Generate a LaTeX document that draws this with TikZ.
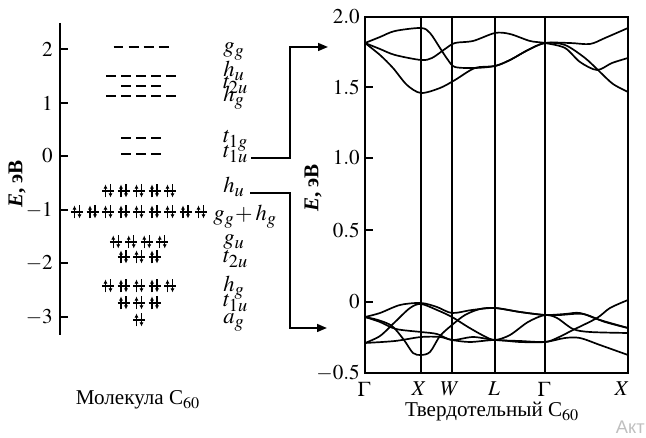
\documentclass[tikz,border=0pt]{standalone}
\usepackage{mathptmx}
\usepackage{fontspec}
\setmainfont{Liberation Serif}
\newfontfamily\wmfont{Liberation Sans}
\usetikzlibrary{arrows.meta}
\DeclareMathSizes{15}{15}{11.5}{9}
\DeclareMathSizes{16}{16}{13}{10}

\tikzset{
  lvl/.style={line width=1.4pt, dash pattern=on 7.1pt off 3.6pt},
  band/.style={line width=1.2pt},
  kline/.style={line width=0.8pt},
  conn/.style={line width=1.3pt, ->},
  lab/.style={anchor=base west, inner sep=0pt, font=\fontsize{16}{18}\selectfont},
  tlab/.style={anchor=east, inner sep=0pt},
  pairsym/.pic={
    \draw[line width=1.1pt] (-6,0) -- (6,0);
    \draw[line width=0.9pt, -{Latex[length=3pt,width=3pt]}] (-2.5,6.5) -- (-2.5,-6.5);
    \draw[line width=0.9pt, -{Latex[length=3pt,width=3pt]}] (2.5,-6.5) -- (2.5,6.5);
  }
}

\begin{document}
\begin{tikzpicture}[x=0.025cm, y=-0.025cm, font=\fontsize{15}{18}\selectfont,
    >={Triangle[length=7pt,width=5.5pt]}]
  \useasboundingbox (0,0) rectangle (646,438);

  % molecule levels
  \draw[line width=1.6pt] (60,23) -- (60,335);
  \foreach \yy/\t in {49/2, 103/1, 156/0, 210/-1, 263/-2, 317/-3}{
    \draw[line width=1.2pt] (60,\yy) -- (68,\yy);
    \node[tlab] (e\t) at (53,\yy) {$\t$};
  }
  \node[rotate=90] (ylab) at (17,184) {\textbf{\textit{E}, эВ}};

  \foreach \yy/\n in {47/4, 76/5, 86/3, 96/5, 138/3, 154/3}
    \draw[lvl] ({141-(15*\n-5)/2},\yy) -- ++({15*\n-5},0);
  \foreach \yy/\n in {191/5, 212/9, 242/4, 257/3, 286/5, 303/3, 320/1}
    \foreach \k in {1,...,\n}
      \pic at ({139+(\k-(\n+1)/2)*15.5},\yy) {pairsym};

  \node[lab] (lgg) at (223,53) {$g_g$};
  \node[lab] (lhu) at (223,77) {$h_u$};
  \node[lab] (lt2u) at (223,89) {$t_{2u}$};
  \node[lab] (lhg) at (223,102) {$h_g$};
  \node[lab] (lt1g) at (223,143) {$t_{1g}$};
  \node[lab] (lt1u) at (223,158) {$t_{1u}$};
  \node[lab] (lhuo) at (223,193) {$h_u$};
  \node[lab] (lgghg) at (213,221) {$g_g\!+h_g$};
  \node[lab] (lgu) at (223,245) {$g_u$};
  \node[lab] (lt2uo) at (223,263) {$t_{2u}$};
  \node[lab] (lhgo) at (223,292) {$h_g$};
  \node[lab] (lt1uo) at (223,307) {$t_{1u}$};
  \node[lab] (lag) at (223,324) {$a_g$};
  \node[anchor=base] (mol) at (138,405) {Молекула C$_{60}$};

  % arrows to the bands
  \coordinate (bendup) at (290,47);
  \coordinate (up) at (328,47);
  \coordinate (benddn) at (290,328);
  \coordinate (dn) at (327,328);
  \draw[conn] ([xshift=2pt]lt1u.base east) -| (bendup) -- (up);
  \draw[conn] ([xshift=4pt]lhuo.base east) -| (benddn) -- (dn);

  % band structure
  \draw[line width=1.3pt] (365,17) rectangle (628,373);
  \foreach \x/\k/\s in {421/X1/X, 452/W/W, 495/L/L, 545/G2/\Gamma}
    \draw[kline] (\x,17) -- (\x,373);
  \foreach \x/\k/\s in {364/G1/\Gamma, 419/X1/X, 450/W/W, 494/L/L, 544/G2/\Gamma, 622/X2/X}
    \node (k\k) at (\x,389) {$\s$};
  \foreach \yy/\v in {87/1.5, 158/1.0, 230/0.5, 302/0}
    \draw[line width=1.1pt] (365,\yy) -- (373,\yy);
  \foreach \yy/\v/\n in {17/2.0/a, 87/1.5/b, 158/1.0/c, 230/0.5/d, 302/0/e, 373/-0.5/f}
    \node[tlab] (s\n) at (360,\yy) {$\v$};
  \node[rotate=90] (ylabs) at (313,188) {\textbf{\textit{E}, эВ}};
  \node[anchor=base] (solid) at (492,417) {Твердотельный C$_{60}$};

  \draw[band] plot[smooth, tension=0.5] coordinates {(365,43) (380,37) (395,31) (421,28) (430,33) (440,48) (448,60) (455,67) (475,68) (495,66) (510,60) (528,50) (545,43) (570,43) (590,44) (605,38) (628,28)};
  \draw[band] plot[smooth, tension=0.5] coordinates {(365,43) (380,49) (395,55) (421,60) (432,58) (445,49) (455,43) (473,41) (495,33) (510,34) (530,41) (545,43) (565,48) (580,62) (597,70) (612,63) (628,58)};
  \draw[band] plot[smooth, tension=0.5] coordinates {(365,43) (380,55) (393,68) (407,85) (421,93) (440,88) (455,80) (475,68) (495,66) (510,60) (528,50) (545,43) (565,45) (585,58) (600,72) (613,84) (628,92)};

  \draw[band] plot[smooth, tension=0.5] coordinates {(365,317) (380,313) (400,305) (421,303) (437,307) (452,313) (472,310) (495,308) (520,312) (545,315) (565,314) (580,313) (600,320) (628,328)};
  \draw[band] plot[smooth, tension=0.5] coordinates {(365,343) (380,336) (395,322) (410,308) (421,304) (437,310) (452,317) (468,327) (484,336) (495,340) (510,335) (528,322) (545,315) (557,318) (573,329) (590,332) (628,333)};
  \draw[band] plot[smooth, tension=0.5] coordinates {(365,317) (378,320) (392,326) (404,340) (413,353) (421,355) (430,352) (440,336) (452,325) (465,315) (480,309) (495,308) (520,312) (545,315) (560,315) (583,314) (605,322) (628,328)};
  \draw[band] plot[smooth, tension=0.5] coordinates {(365,317) (380,322) (396,329) (421,332) (437,334) (452,340) (473,337) (495,340) (520,341) (545,342) (557,338) (573,330) (597,318) (610,308) (628,300)};
  \draw[band] plot[smooth, tension=0.5] coordinates {(365,343) (395,341) (421,337) (440,337) (452,340) (470,342) (495,340) (520,342) (545,342) (565,338) (580,338) (600,345) (628,355)};

  \node[anchor=base west, text=black!25, font=\wmfont\fontsize{13}{15}\selectfont] (wm) at (611,434) {Акт};
\end{tikzpicture}
\end{document}
